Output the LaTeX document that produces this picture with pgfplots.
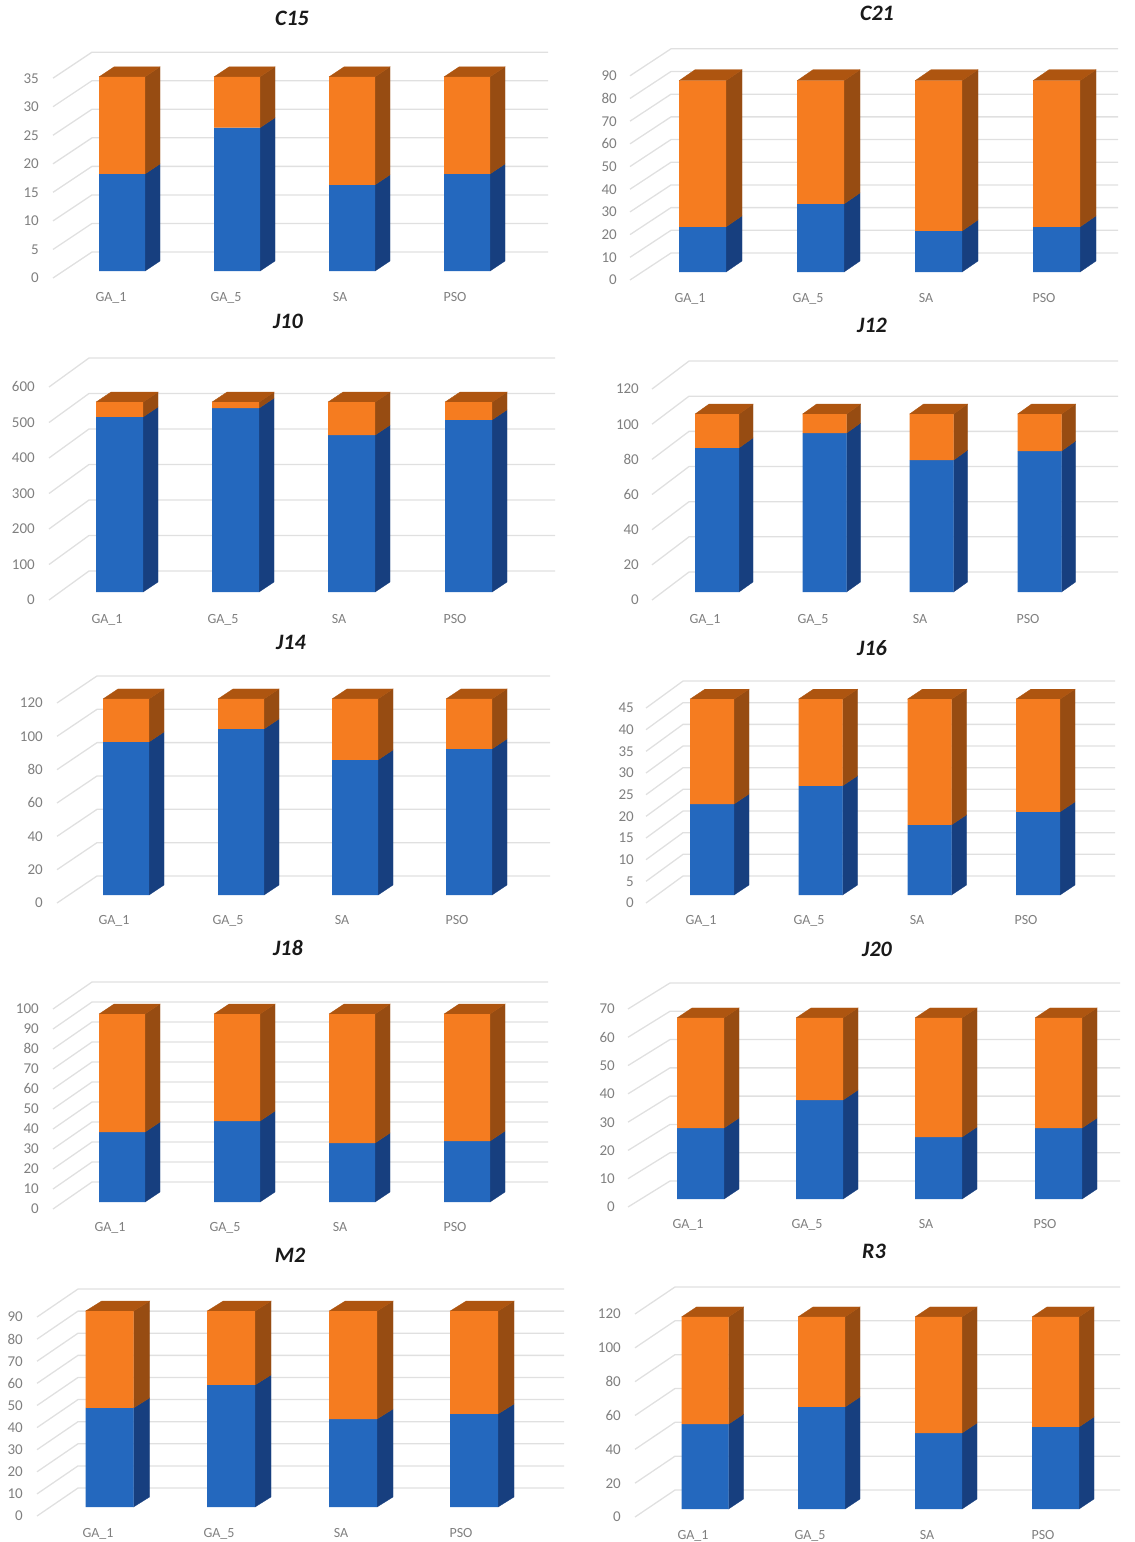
\documentclass[border=0pt]{standalone}
\usepackage{fontspec}
\setmainfont{Carlito}
\usepackage{pgfplots}
\pgfplotsset{compat=1.18}

\definecolor{frontblue}{HTML}{2468BE}
\definecolor{frontorange}{HTML}{F57C20}
\definecolor{sideblue}{HTML}{173F7F}
\definecolor{sideorange}{HTML}{974C12}
\definecolor{toporange}{HTML}{AE5510}
\definecolor{wallgrid}{HTML}{E0E0E0}
\definecolor{ticktext}{HTML}{7F7F7F}

% Parameters of one panel (all lengths in points, measured from the page's top left)
\pgfqkeys{/panel}{
  title/.store in=\pTitle, tx/.store in=\pTx, ty/.store in=\pTy,
  left/.store in=\pLeft, right/.store in=\pRight,
  wallx/.store in=\pWallx, wx/.store in=\pWx, wy/.store in=\pWy,
  base/.store in=\pBase, zero/.store in=\pZero, k/.store in=\pK,
  step/.store in=\pStep, top/.store in=\pTop,
  w/.store in=\pW, dx/.store in=\pDx, dy/.store in=\pDy,
  bars/.store in=\pBars, labs/.store in=\pLabs, laby/.store in=\pLaby,
  dx=15, dy=10
}

\newcommand{\panel}[1]{%
  \pgfqkeys{/panel}{dx=15, dy=10, #1}%
  \pgfmathsetmacro\pShift{\pZero-\pBase}%
  \pgfmathsetmacro\pTickShift{\pShift+1.5}%
  \pgfmathsetmacro\pLabShift{\pLaby-\pBase+1.5}%
  \pgfmathsetmacro\pHalf{\pW/2}%
  \pgfmathsetmacro\pDv{\pDy/\pK}%
  \pgfmathsetmacro\pWv{\pWy/\pK}%
  \pgfmathsetmacro\pDiagX{\pWallx-\pWx}%
  \begin{axis}[
    at={(\pLeft pt,-\pBase pt)}, anchor=south west,
    x=1pt, y=\pK pt,
    xmin=\pLeft, xmax=\pRight, ymin=0, ymax=\pTop,
    clip=false,
    axis line style={draw=none},
    major tick length=0pt,
    tick style={draw=none},
    ytick distance=\pStep,
    xtick=\pLabs,
    xticklabels={GA\_1,GA\_5,SA,PSO},
    xticklabel style={font=\fontsize{14}{16}\selectfont, text=ticktext, inner sep=0pt, anchor=center, yshift=-\pLabShift pt},
    yticklabel style={font=\fontsize{15}{17}\selectfont, text=ticktext, inner sep=0pt, anchor=east, yshift=-\pTickShift pt},
    /pgf/number format/assume math mode=true,
    typeset ticklabels with strut,
    stack plots=false,
  ]
  % wall gridlines with their receding floor lines
  \pgfplotsforeachungrouped \t in {0,\pStep,...,\pTop}{%
    \pgfmathsetmacro\ya{\t-\pShift/\pK}%
    \pgfmathsetmacro\yb{\ya+\pWv}%
    \edef\cmd{\noexpand\addplot[draw=wallgrid, line width=1.3pt, mark=none, sharp plot]
       coordinates {(\pDiagX,\ya) (\pWallx,\yb) (\pRight,\yb)};}\cmd
  }
  % depth faces of the columns
  \xdef\blueList{}\xdef\orangeList{}%
  \foreach \c/\b/\o in \pBars {%
    \pgfmathsetmacro\R{\c+\pHalf}%
    \pgfmathsetmacro\Rb{\R+\pDx}%
    \pgfmathsetmacro\L{\c-\pHalf}%
    \pgfmathsetmacro\Lb{\L+\pDx}%
    \pgfmathsetmacro\T{\b+\o}%
    \pgfmathsetmacro\Bb{\b+\pDv}%
    \pgfmathsetmacro\Tb{\T+\pDv}%
    \xdef\blueList{\blueList (\c,\b)}%
    \xdef\orangeList{\orangeList (\c,\o)}%
    \edef\cmd{%
      \noexpand\addplot[fill=sideblue, draw=sideblue, line width=0.3pt, mark=none, sharp plot]
        coordinates {(\R,0) (\Rb,\pDv) (\Rb,\Bb) (\R,\b) (\R,0)};
      \noexpand\addplot[fill=sideorange, draw=sideorange, line width=0.3pt, mark=none, sharp plot]
        coordinates {(\R,\b) (\Rb,\Bb) (\Rb,\Tb) (\R,\T) (\R,\b)};
      \noexpand\addplot[fill=toporange, draw=toporange, line width=0.3pt, mark=none, sharp plot]
        coordinates {(\L,\T) (\R,\T) (\Rb,\Tb) (\Lb,\Tb) (\L,\T)};}\cmd
  }
  % front faces: the stacked values themselves
  \edef\cmd{%
    \noexpand\addplot[stack plots=y, ybar, bar shift=0pt, bar width=\pW, fill=frontblue, draw=none]
      coordinates {\blueList};
    \noexpand\addplot[stack plots=y, ybar, bar shift=0pt, bar width=\pW, fill=frontorange, draw=none]
      coordinates {\orangeList};}\cmd
  \end{axis}
  \node[font=\fontsize{22}{24}\selectfont\bfseries\itshape, text=black!90] at (\pTx pt,-\pTy pt) {\pTitle};
}

\begin{document}
\begin{tikzpicture}[x=1pt,y=1pt]
\path[use as bounding box] (0,0) rectangle (1135,-1542);

\panel{title=C15, tx=292, ty=18, left=39, right=548, wallx=92, wx=39, wy=26,
  base=271, zero=278, k=5.71, step=5, top=35, w=46,
  bars={122/17/17, 237/25.1/8.9, 352/15.1/18.9, 467/17/17},
  labs={111,226,340,455}, laby=297}
\panel{title=C21, tx=877, ty=13, left=617, right=1118, wallx=671, wx=41, wy=27,
  base=272, zero=280, k=2.269, step=10, top=90, w=47, dx=16, dy=11,
  bars={702.5/19.9/64.4, 820.5/30/54.3, 938.5/18.1/66.2, 1056.5/19.9/64.4},
  labs={690,808,926,1044}, laby=298}

\panel{title=J10, tx=288, ty=321, left=35, right=555, wallx=89, wx=40, wy=29,
  base=592, zero=600, k=0.355, step=100, top=600, w=47,
  bars={119.5/493/42, 235.5/518/17, 351.5/442/93, 468.5/485/50},
  labs={107,223,339,455}, laby=619}
\panel{title=J12, tx=872, ty=325, left=639, right=1118, wallx=689, wx=37, wy=28,
  base=592, zero=600, k=1.758, step=20, top=120, w=44, dx=14, dy=10,
  bars={717/82/19.2, 824.5/90.4/10.8, 931.5/75/26.2, 1039.5/80.2/21},
  labs={705,813,920,1028}, laby=619}

\panel{title=J14, tx=291, ty=642, left=43, right=550, wallx=97, wx=40, wy=27,
  base=895, zero=903, k=1.667, step=20, top=120, w=46,
  bars={126/91.8/25.8, 241/99.6/18, 355/81/36.6, 469/87.6/30},
  labs={114,228,342,457}, laby=920}
\panel{title=J16, tx=872, ty=648, left=634, right=1115, wallx=683, wx=37, wy=27,
  base=895, zero=903, k=4.333, step=5, top=45, w=44,
  bars={712/21/24.2, 820.5/25.2/20, 929.5/16.2/29, 1038/19.2/26},
  labs={701,809,917,1026}, laby=920}

\panel{title=J18, tx=288, ty=948, left=39, right=548, wallx=92, wx=39, wy=27,
  base=1202, zero=1209, k=2, step=10, top=100, w=46,
  bars={122/35/59, 237/40.5/53.5, 352/29.5/64.5, 467/30.5/63.5},
  labs={110,225,340,455}, laby=1227}
\panel{title=J20, tx=877, ty=949, left=615, right=1120, wallx=670, wx=42, wy=26,
  base=1199, zero=1207, k=2.829, step=10, top=70, w=47,
  bars={700.5/25.1/38.9, 819.5/35/29, 938.5/21.9/42.1, 1058.5/25.1/38.9},
  labs={688,807,926,1045}, laby=1224}

\panel{title=M2, tx=290, ty=1255, left=23, right=564, wallx=78, wx=41, wy=28,
  base=1507, zero=1516, k=2.211, step=10, top=90, w=48, dx=16, dy=10,
  bars={109.5/44.8/43.8, 231/55.2/33.4, 353/39.8/48.8, 474/42.1/46.5},
  labs={98,219,341,461}, laby=1533}
\panel{title=R3, tx=874, ty=1251, left=621, right=1120, wallx=675, wx=40, wy=27,
  base=1509, zero=1517, k=1.692, step=20, top=120, w=47,
  bars={705/50.2/63.3, 821.5/60.3/53.2, 938.5/44.9/68.6, 1055.5/48.5/65},
  labs={693,810,927,1043}, laby=1535}
\end{tikzpicture}
\end{document}
